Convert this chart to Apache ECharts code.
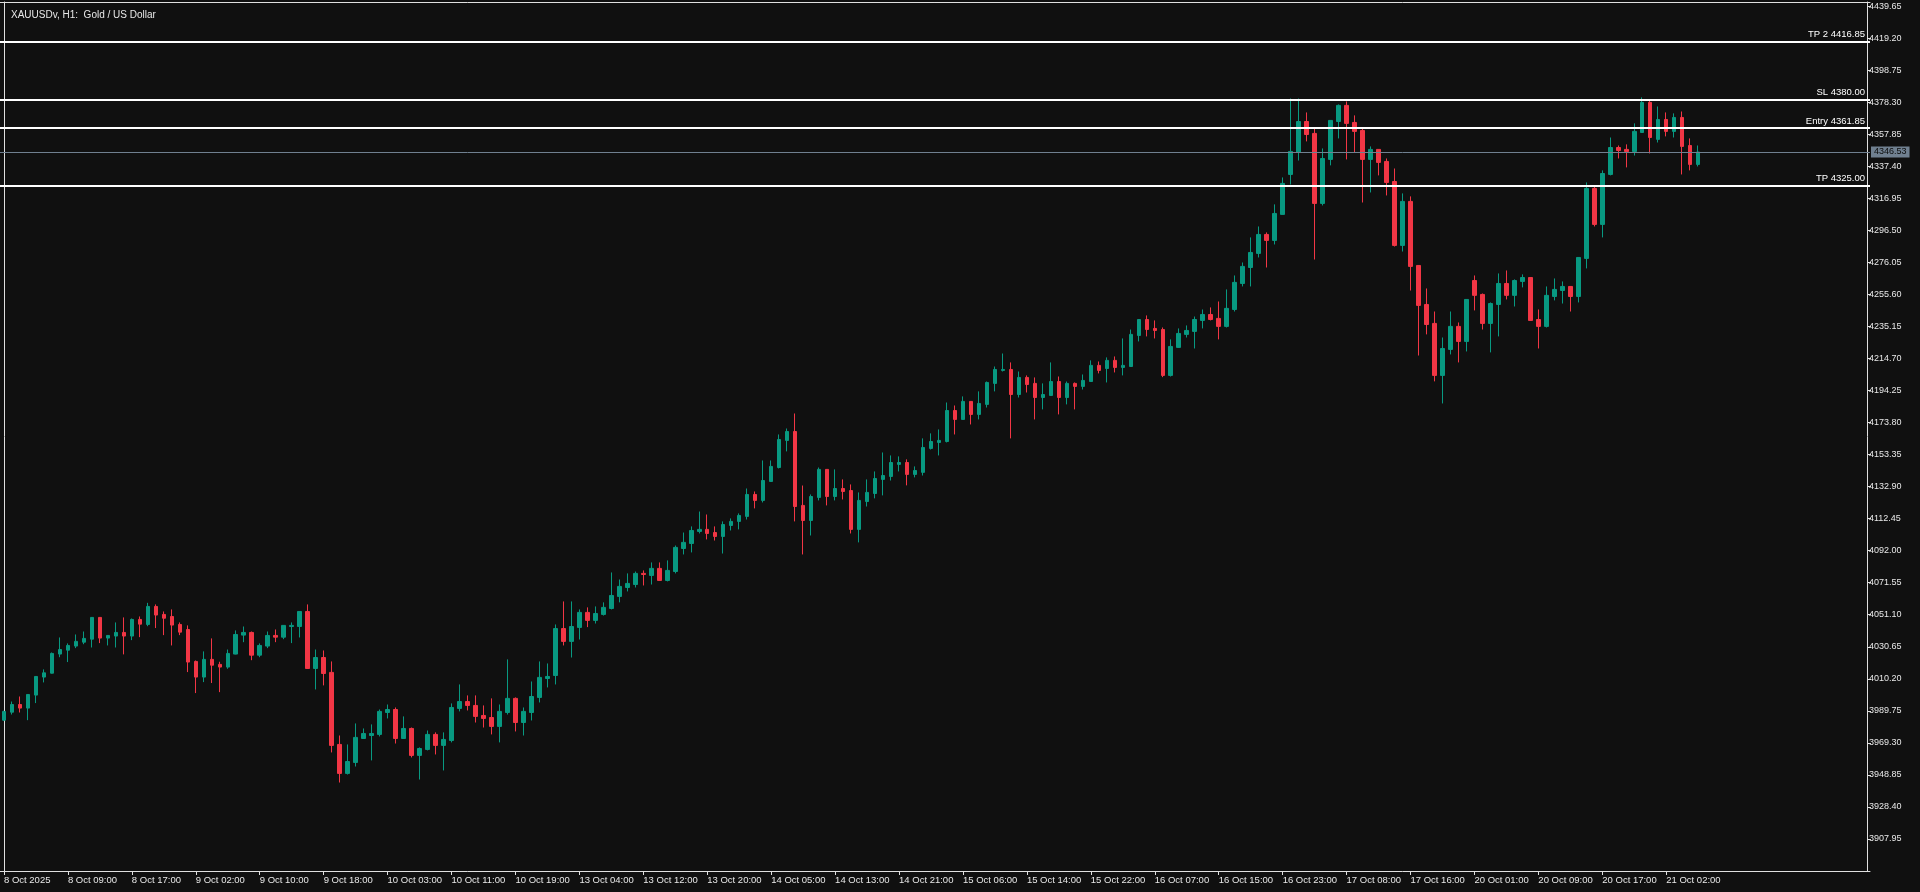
<!DOCTYPE html>
<html><head><meta charset="utf-8">
<script src="https://cdn.jsdelivr.net/npm/echarts@6/dist/echarts.min.js"></script>
<style>html,body{margin:0;padding:0;background:#101010;}#chart{width:1920px;height:892px;}</style>
</head><body><div id="chart"></div>
<script>
const opens = [3983.8,3988.9,3993.8,3991.5,3999.8,4011.3,4013.8,4026.0,4028.5,4031.1,4033.6,4035.5,4049.4,4036.2,4037.5,4039.8,4037.5,4048.1,4044.9,4056.4,4051.3,4050.0,4044.9,4041.7,4021.3,4011.3,4022.6,4019.4,4017.7,4026.0,4038.1,4039.8,4025.3,4031.1,4037.9,4036.8,4043.6,4043.6,4053.2,4016.8,4023.8,4014.3,3968.3,3949.8,3956.8,3972.1,3974.0,3974.7,3988.7,3990.6,3972.1,3978.5,3961.3,3965.1,3974.7,3967.7,3970.8,3991.3,3995.7,3993.2,3986.8,3985.5,3979.8,3988.7,3997.7,3982.3,3988.7,3998.3,4010.4,4012.3,4042.3,4034.1,4043.0,4052.6,4047.5,4051.3,4055.1,4062.8,4068.5,4070.4,4077.5,4076.2,4080.7,4073.0,4078.7,4093.4,4096.6,4104.3,4105.6,4103.6,4101.1,4108.1,4110.7,4113.9,4127.9,4124.1,4136.2,4145.1,4162.4,4168.1,4120.9,4111.3,4126.0,4143.9,4126.6,4131.7,4130.4,4105.6,4123.4,4128.5,4137.5,4139.4,4147.1,4148.3,4140.7,4142.0,4157.3,4161.1,4161.7,4181.5,4175.8,4187.3,4179.0,4185.4,4198.8,4207.1,4207.7,4191.7,4202.6,4198.8,4189.8,4191.1,4200.0,4189.8,4198.8,4196.9,4200.0,4210.3,4208.3,4213.5,4209.0,4209.6,4229.4,4239.6,4233.9,4233.2,4203.9,4221.8,4230.1,4232.0,4239.0,4242.8,4240.3,4235.2,4246.0,4262.6,4272.8,4281.8,4293.9,4290.1,4306.7,4332.2,4346.3,4366.0,4358.4,4313.7,4341.8,4366.0,4376.3,4365.4,4360.3,4341.8,4348.2,4340.5,4327.7,4286.9,4315.0,4274.1,4249.2,4237.1,4203.9,4220.5,4235.2,4225.6,4264.5,4255.6,4237.1,4249.2,4262.6,4255.0,4263.9,4266.4,4239.6,4235.2,4254.3,4258.1,4260.7,4254.3,4278.6,4323.3,4300.3,4332.2,4349.4,4348.2,4346.9,4359.0,4378.2,4354.6,4367.3,4359.7,4368.6,4350.7,4338.6];
const highs = [3989.8,3995.7,3998.9,4000.4,4011.9,4016.2,4027.0,4036.6,4032.8,4038.5,4040.4,4049.6,4049.6,4038.1,4046.2,4049.4,4048.7,4050.0,4058.7,4057.7,4053.2,4054.5,4046.2,4044.3,4021.9,4027.7,4036.0,4021.1,4028.9,4041.1,4043.6,4040.4,4032.8,4040.4,4041.7,4044.5,4046.2,4053.4,4057.7,4028.9,4028.3,4021.3,3974.0,3968.3,3981.7,3978.5,3981.1,3990.6,3993.8,3991.9,3986.2,3979.1,3966.4,3977.2,3976.0,3976.0,3994.5,4006.6,3999.6,3999.6,3993.2,3997.7,3993.8,4022.6,3998.3,3991.9,4008.5,4021.3,4020.0,4044.9,4059.6,4059.6,4054.5,4055.8,4056.4,4059.0,4078.1,4073.6,4077.5,4078.7,4079.4,4084.5,4084.5,4085.8,4095.3,4103.6,4107.5,4117.0,4115.1,4107.5,4110.7,4112.6,4115.8,4131.7,4129.8,4149.6,4149.6,4166.2,4170.0,4179.6,4133.6,4127.9,4145.1,4144.1,4143.9,4137.5,4134.3,4129.2,4137.5,4142.6,4154.7,4152.8,4152.2,4150.3,4145.8,4163.7,4166.9,4169.4,4186.6,4184.7,4190.5,4187.5,4193.7,4200.0,4209.6,4217.9,4212.2,4206.4,4203.9,4202.6,4198.8,4212.2,4203.2,4200.0,4199.4,4204.5,4213.5,4212.8,4215.4,4216.0,4227.5,4233.2,4239.8,4242.2,4239.0,4234.5,4226.9,4233.9,4235.8,4241.5,4246.0,4247.3,4251.1,4258.8,4267.7,4276.0,4292.0,4299.0,4295.2,4313.1,4330.3,4380.7,4380.7,4371.8,4361.6,4348.8,4366.9,4376.9,4378.8,4369.9,4361.6,4350.1,4348.3,4342.4,4336.0,4320.1,4318.2,4274.3,4259.4,4244.7,4228.1,4244.7,4237.7,4252.6,4267.7,4256.2,4250.5,4269.0,4270.9,4265.2,4268.4,4266.6,4246.0,4260.7,4265.8,4263.9,4260.9,4279.4,4327.1,4324.5,4334.8,4355.8,4350.7,4351.4,4364.8,4381.4,4380.1,4375.6,4371.8,4371.2,4372.4,4355.2,4350.7];
const lows = [3983.4,3987.4,3988.7,3983.8,3994.7,4007.9,4013.6,4024.0,4020.9,4029.8,4032.3,4030.2,4033.0,4031.5,4030.2,4025.8,4034.9,4036.8,4043.8,4042.6,4038.1,4031.5,4038.1,4014.5,4001.1,4008.1,4007.5,4001.7,4016.6,4025.8,4033.6,4022.1,4024.0,4029.8,4033.6,4035.5,4033.0,4036.6,4016.6,4003.4,4006.0,3963.2,3944.0,3949.1,3954.2,3971.9,3958.1,3973.4,3984.9,3968.9,3971.9,3960.0,3945.9,3964.5,3961.9,3951.7,3969.6,3989.4,3990.0,3982.3,3979.1,3974.7,3969.6,3987.4,3976.6,3974.0,3983.6,3995.1,4004.7,4006.6,4031.5,4023.8,4035.3,4043.2,4045.5,4050.6,4054.5,4059.0,4066.0,4068.5,4069.8,4070.4,4072.8,4072.4,4077.5,4089.6,4090.9,4103.0,4099.2,4098.5,4090.2,4104.9,4105.6,4111.9,4119.0,4122.8,4136.0,4144.5,4155.4,4110.7,4089.6,4101.7,4124.1,4120.9,4124.1,4124.7,4103.0,4097.3,4120.2,4125.4,4127.3,4136.8,4142.6,4133.7,4138.8,4140.0,4156.6,4152.8,4161.1,4166.2,4175.6,4172.6,4175.8,4183.4,4193.7,4206.4,4163.7,4189.8,4193.0,4175.8,4182.2,4191.0,4179.0,4185.4,4182.2,4194.9,4199.9,4205.2,4199.4,4205.8,4203.9,4209.5,4225.6,4228.8,4227.5,4202.8,4203.2,4221.6,4228.1,4221.1,4233.9,4239.0,4226.9,4234.5,4244.7,4260.7,4260.7,4279.2,4272.8,4287.5,4306.6,4325.8,4341.1,4353.3,4277.9,4312.4,4338.0,4355.2,4341.8,4346.3,4314.3,4320.7,4331.6,4318.8,4286.2,4283.0,4258.1,4216.6,4230.1,4200.1,4186.0,4217.3,4212.2,4219.2,4245.4,4233.2,4218.6,4228.8,4252.4,4247.9,4260.1,4238.8,4221.1,4234.5,4251.8,4249.8,4244.7,4250.5,4272.2,4299.0,4292.0,4331.6,4342.4,4336.7,4344.3,4358.8,4345.6,4352.6,4356.5,4355.8,4332.2,4334.8,4337.3];
const closes = [3989.4,3993.8,3991.5,4000.2,4011.7,4014.0,4026.4,4028.9,4031.5,4034.1,4036.0,4049.4,4036.2,4037.9,4039.8,4037.5,4048.1,4045.1,4056.4,4050.9,4048.9,4044.5,4040.0,4020.9,4011.3,4022.6,4018.9,4017.7,4026.4,4038.5,4039.8,4025.3,4031.5,4037.9,4036.8,4044.3,4044.3,4053.2,4016.8,4023.8,4013.6,3967.7,3949.8,3957.4,3972.8,3975.3,3975.3,3989.4,3990.6,3972.1,3978.5,3961.3,3965.7,3974.7,3967.7,3971.5,3991.9,3995.7,3993.2,3986.2,3984.9,3979.8,3989.4,3997.7,3982.3,3989.4,3998.9,4011.1,4011.7,4042.3,4034.1,4043.6,4052.6,4047.5,4051.9,4055.8,4063.4,4069.2,4071.1,4077.5,4076.8,4080.7,4073.0,4079.4,4094.1,4097.3,4104.9,4105.6,4103.0,4101.1,4108.7,4110.7,4114.5,4127.9,4124.1,4136.8,4145.8,4163.0,4168.1,4120.2,4111.3,4126.6,4143.9,4126.6,4131.7,4129.8,4105.6,4124.1,4129.2,4138.1,4140.0,4148.3,4148.3,4140.7,4143.2,4157.9,4161.7,4162.4,4181.5,4175.8,4187.3,4179.0,4186.0,4199.4,4207.7,4207.7,4191.7,4202.6,4198.1,4189.8,4191.7,4200.0,4189.8,4198.8,4196.9,4200.7,4210.3,4207.1,4213.5,4209.0,4210.3,4230.1,4239.6,4233.2,4232.6,4203.9,4222.4,4230.7,4232.6,4239.6,4242.8,4239.6,4235.2,4246.7,4263.3,4273.5,4282.4,4293.9,4290.1,4307.3,4326.5,4346.9,4366.0,4357.7,4313.7,4342.4,4366.7,4376.3,4364.8,4359.7,4341.8,4348.2,4339.9,4327.1,4286.9,4315.0,4273.5,4248.6,4236.4,4203.9,4221.1,4235.2,4225.6,4252.4,4255.0,4237.1,4249.8,4262.6,4255.0,4264.5,4266.4,4239.0,4235.2,4255.0,4258.8,4260.7,4254.3,4279.2,4323.3,4300.3,4332.8,4349.4,4347.5,4346.9,4359.7,4378.2,4355.8,4367.3,4359.7,4368.6,4350.1,4338.6,4346.53];

const days = ['8 Oct','9 Oct','10 Oct','13 Oct','14 Oct','15 Oct','16 Oct','17 Oct','20 Oct','21 Oct','22 Oct'];
const hours = ['01:00','02:00','03:00','04:00','05:00','06:00','07:00','08:00','09:00','10:00','11:00','12:00','13:00','14:00','15:00','16:00','17:00','18:00','19:00','20:00','21:00','22:00','23:00'];
const firstTickLabel = '8 Oct 2025';
const levelNames = ['TP 2', 'SL', 'Entry', 'TP'];
const levelValues = [4416.85, 4380.00, 4361.85, 4325.00];
const currentPrice = 4346.53;
const yMin = 3887.50, yStep = 20.45, yMax = 4442.3;
const slotCount = 234;
const labelEvery = 8, lastLabelIndex = 208;

const categories = [];
for (const d of days) for (const h of hours) categories.push(d + ' ' + h);
categories.length = slotCount;

const candleData = opens.map((o, i) => [o, closes[i], lows[i], highs[i]]);
const showTick = (idx) => idx % labelEvery === 0 && idx <= lastLabelIndex;

const FONT = 'Liberation Sans';
const TXT = '#e8e8e8';
const LINE = '#e0e0e0';

const chart = echarts.init(document.getElementById('chart'), null, {renderer: 'canvas'});
chart.setOption({
  animation: false,
  backgroundColor: '#101010',
  title: {
    text: 'XAUUSDv, H1:  Gold / US Dollar', left: 6, top: 5,
    textStyle: {color: TXT, fontSize: 10, fontWeight: 'normal', fontFamily: FONT}
  },
  grid: {left: -2, right: 50, top: 2, bottom: 21, containLabel: false},
  xAxis: [
    {
      type: 'category', data: categories, boundaryGap: true, position: 'bottom',
      axisLine: {show: true, lineStyle: {color: LINE, width: 1}},
      axisTick: {show: true, alignWithLabel: true, interval: showTick, length: 4, lineStyle: {color: LINE}},
      axisLabel: {
        show: true, interval: showTick, align: 'left', margin: 4, color: TXT,
        fontSize: 9.5, fontFamily: FONT, hideOverlap: false,
        formatter: (v, i) => (i === 0 ? firstTickLabel : v)
      },
      splitLine: {show: false}
    },
    {
      type: 'category', data: categories, position: 'top',
      axisLine: {show: true, lineStyle: {color: LINE, width: 1}},
      axisTick: {show: false}, axisLabel: {show: false}, splitLine: {show: false}
    }
  ],
  yAxis: [
    {
      type: 'value', position: 'right', offset: -3, min: yMin, max: yMax, interval: yStep,
      axisLine: {show: true, lineStyle: {color: LINE, width: 1}},
      axisTick: {show: true, length: 4, lineStyle: {color: LINE}},
      axisLabel: {
        color: TXT, fontSize: 9, fontFamily: FONT, margin: 2,
        showMinLabel: false, showMaxLabel: false, formatter: (v) => v.toFixed(2)
      },
      splitLine: {show: false}
    },
    {
      type: 'value', position: 'left', offset: -4, min: 0, max: 1,
      axisLine: {show: true, lineStyle: {color: LINE, width: 1}},
      axisTick: {show: false}, axisLabel: {show: false}, splitLine: {show: false}
    }
  ],
  series: [{
    type: 'candlestick', xAxisIndex: 0, yAxisIndex: 0, data: candleData, barWidth: 4,
    itemStyle: {color: '#089981', color0: '#f23645', borderColor: '#089981', borderColor0: '#f23645', borderWidth: 1},
    markLine: {
      symbol: 'none', silent: true, animation: false,
      data: levelValues.map((v, i) => ({
        yAxis: v, name: levelNames[i] + ' ' + v.toFixed(2),
        lineStyle: {color: '#ffffff', width: 2, type: 'solid'},
        label: {show: true, position: 'insideEndTop', formatter: '{b}', color: '#ffffff', fontSize: 9.5, fontFamily: FONT, distance: [5, 2]}
      })).concat([{
        yAxis: currentPrice, name: currentPrice.toFixed(2),
        lineStyle: {color: '#708090', width: 1, type: 'solid'},
        label: {show: true, position: 'end', formatter: '{b}', color: '#0c0c0c', backgroundColor: '#708090', padding: [1, 3, 1, 3], fontSize: 9, fontFamily: FONT, distance: 1}
      }])
    }
  }]
});
</script></body></html>
